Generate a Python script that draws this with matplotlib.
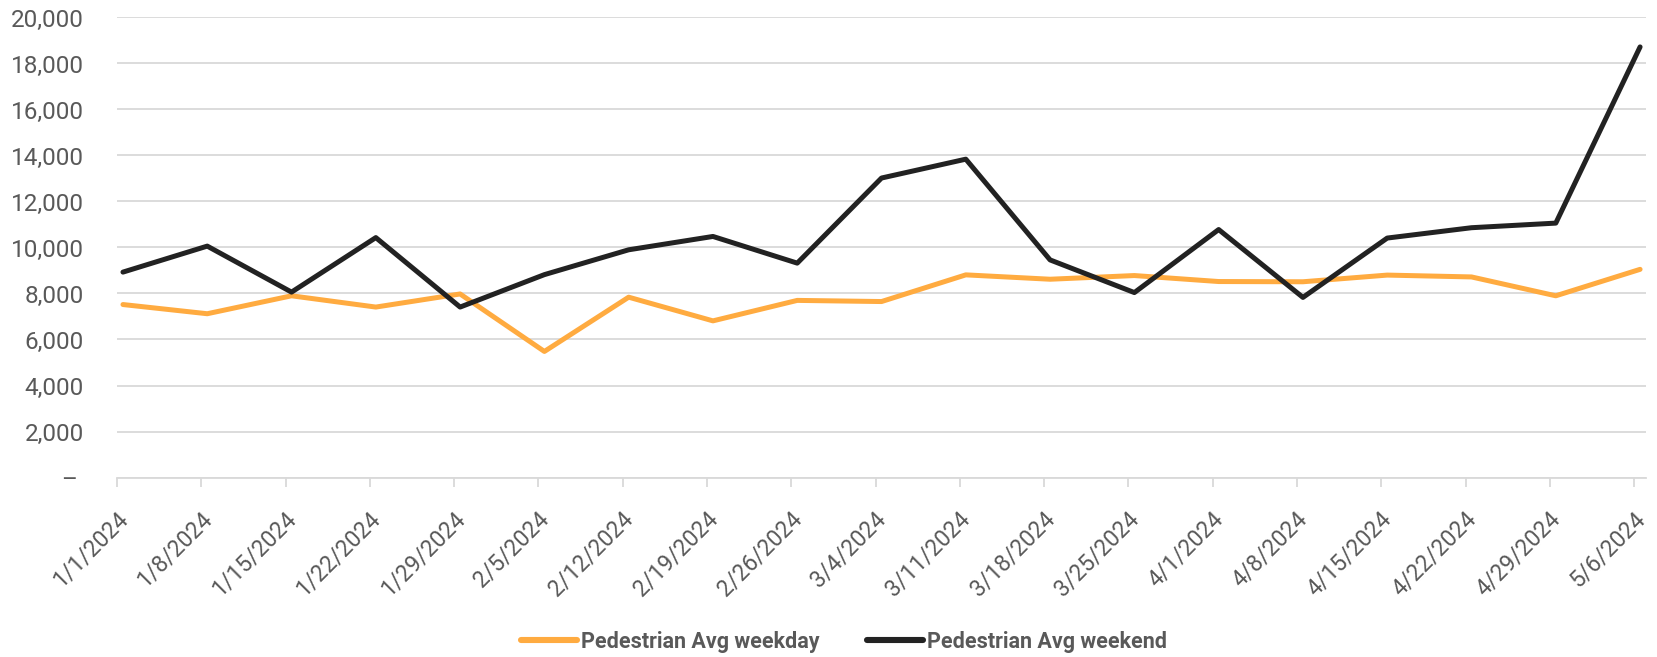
import matplotlib.pyplot as plt
from matplotlib.ticker import FuncFormatter
import matplotlib.transforms as mtransforms


DATES = [
    "1/1/2024", "1/8/2024", "1/15/2024", "1/22/2024", "1/29/2024",
    "2/5/2024", "2/12/2024", "2/19/2024", "2/26/2024", "3/4/2024",
    "3/11/2024", "3/18/2024", "3/25/2024", "4/1/2024", "4/8/2024",
    "4/15/2024", "4/22/2024", "4/29/2024", "5/6/2024",
]

WEEKDAY = [
    7520, 7120, 7900, 7410, 7980, 5480, 7840, 6810, 7700, 7650,
    8810, 8620, 8780, 8520, 8510, 8800, 8720, 7900, 9050,
]

WEEKEND = [
    8930, 10060, 8060, 10430, 7410, 8820, 9900, 10480, 9320, 13020,
    13840, 9460, 8040, 10780, 7830, 10410, 10860, 11060, 18720,
]

Y_TICKS = [0, 2000, 4000, 6000, 8000, 10000, 12000, 14000, 16000, 18000, 20000]

ORANGE = "#FFAB40"
BLACK = "#222222"
GRID = "#D9D9D9"
TEXT = "#595959"

plt.rcParams["font.family"] = ["Roboto", "DejaVu Sans"]


def y_label(value, _pos):
    if value == 0:
        return "– "
    return f"{value:,.0f}"


def main() -> None:
    fig = plt.figure(figsize=(16.57, 6.57), dpi=100)
    ax = fig.add_axes([0.0706, 0.2732, 0.9228, 0.7002])

    x = list(range(len(DATES)))
    style = dict(linewidth=3.6, solid_joinstyle="round", solid_capstyle="round")
    ax.plot(x, WEEKDAY, color=ORANGE, label="Pedestrian Avg weekday", zorder=3, **style)
    ax.plot(x, WEEKEND, color=BLACK, label="Pedestrian Avg weekend", zorder=4, **style)

    shift = 0.071
    ax.set_xlim(-shift, len(DATES) - 1 + shift)
    ax.set_ylim(Y_TICKS[0], Y_TICKS[-1])

    ax.set_yticks(Y_TICKS)
    ax.yaxis.set_major_formatter(FuncFormatter(y_label))
    ax.grid(axis="y", color=GRID, linewidth=1.3, zorder=0)
    ax.tick_params(axis="y", length=0, pad=24, labelsize=17.5, labelcolor=TEXT)

    ax.set_xticks([i - shift for i in x])
    ax.set_xticklabels(DATES, rotation=45, ha="right", va="center", rotation_mode="anchor")
    ax.tick_params(axis="x", length=6.5, width=1.3, color=GRID, pad=0,
                   labelsize=16.5, labelcolor=TEXT)
    offset = mtransforms.ScaledTranslation(7 / 100, -29 / 100, fig.dpi_scale_trans)
    for label in ax.get_xticklabels():
        label.set_transform(label.get_transform() + offset)

    for side in ("top", "right", "left"):
        ax.spines[side].set_visible(False)
    ax.spines["bottom"].set_color(GRID)
    ax.spines["bottom"].set_linewidth(1.3)

    legend = fig.legend(
        loc="center", bbox_to_anchor=(0.5094, 0.0228), ncols=2, frameon=False,
        handlelength=2.6, handletextpad=0.19, columnspacing=2.2,
        borderpad=0, prop={"size": 15.5, "weight": "bold"},
    )
    for line in legend.get_lines():
        line.set_linewidth(4.4)
    for text in legend.get_texts():
        text.set_color(TEXT)

    fig.savefig("out.png", dpi=100)
    plt.close(fig)


if __name__ == "__main__":
    main()
